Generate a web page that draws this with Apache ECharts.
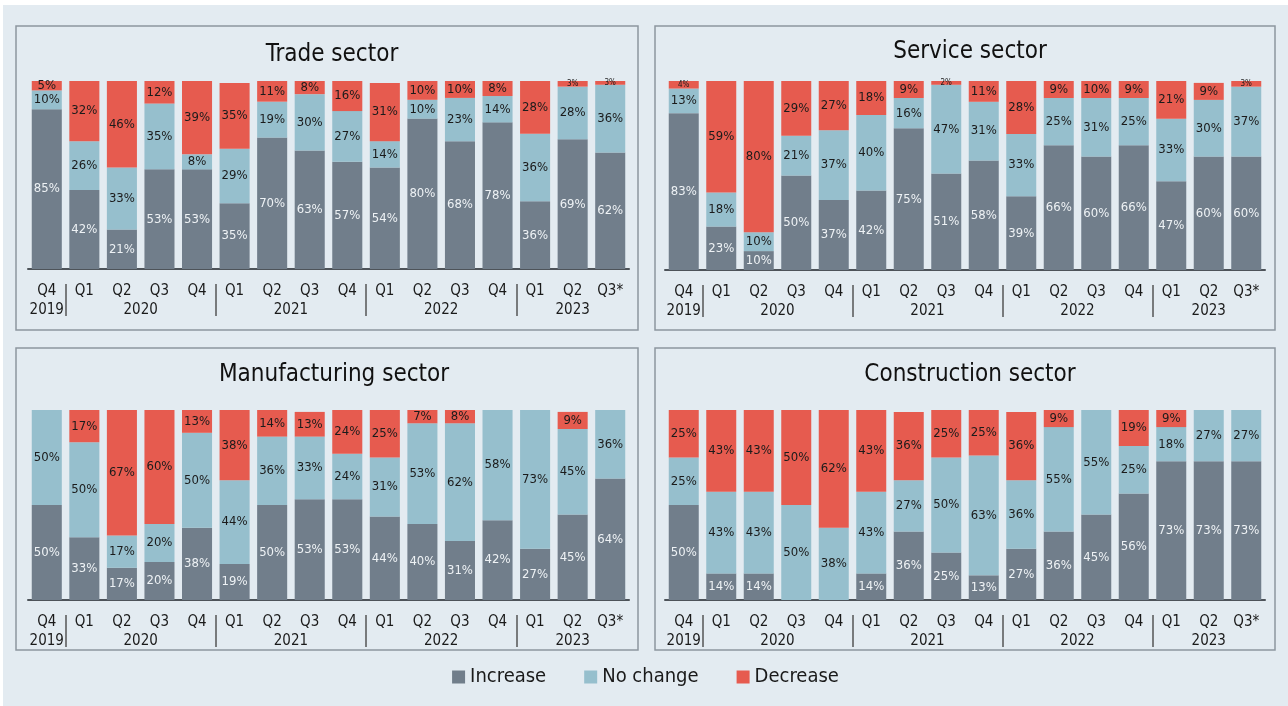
<!DOCTYPE html>
<html>
<head>
<meta charset="utf-8">
<script src="https://cdn.jsdelivr.net/npm/echarts@6/dist/echarts.min.js"></script>
<style>
  body { margin: 0; background: #fff; }
  #main { position: absolute; left: 3px; top: 5px; width: 1285px; height: 701px; }
</style>
</head>
<body>
<div id="main"></div>
<script>
// categories
var quarters = ['Q4', 'Q1', 'Q2', 'Q3', 'Q4', 'Q1', 'Q2', 'Q3', 'Q4', 'Q1', 'Q2', 'Q3', 'Q4', 'Q1', 'Q2', 'Q3*']
var years = ['2019', '2020', '2021', '2022', '2023']
var yearSizes = [1, 4, 4, 4, 3]

// trade sector
var tradeInc = [85, 42, 21, 53, 53, 35, 70, 63, 57, 54, 80, 68, 78, 36, 69, 62]
var tradeNo  = [10, 26, 33, 35, 8, 29, 19, 30, 27, 14, 10, 23, 14, 36, 28, 36]
var tradeDec = [5, 32, 46, 12, 39, 35, 11, 8, 16, 31, 10, 10, 8, 28, 3, 3]

// service sector
var serviceInc = [83, 23, 10, 50, 37, 42, 75, 51, 58, 39, 66, 60, 66, 47, 60, 60]
var serviceNo  = [13, 18, 10, 21, 37, 40, 16, 47, 31, 33, 25, 31, 25, 33, 30, 37]
var serviceDec = [4, 59, 80, 29, 27, 18, 9, 2, 11, 28, 9, 10, 9, 21, 9, 3]

// manufacturing sector
var manufInc = [50, 33, 17, 20, 38, 19, 50, 53, 53, 44, 40, 31, 42, 27, 45, 64]
var manufNo  = [50, 50, 17, 20, 50, 44, 36, 33, 24, 31, 53, 62, 58, 73, 45, 36]
var manufDec = [0, 17, 67, 60, 13, 38, 14, 13, 24, 25, 7, 8, 0, 0, 9, 0]

// construction sector
var constrInc = [50, 14, 14, 0, 0, 14, 36, 25, 13, 27, 36, 45, 56, 73, 73, 73]
var constrNo  = [25, 43, 43, 50, 38, 43, 27, 50, 63, 36, 55, 55, 25, 18, 27, 27]
var constrDec = [25, 43, 43, 50, 62, 43, 36, 25, 25, 36, 9, 0, 19, 9, 0, 0]

var panels = [
  {title: 'Trade sector', inc: tradeInc, no: tradeNo, dec: tradeDec},
  {title: 'Service sector', inc: serviceInc, no: serviceNo, dec: serviceDec},
  {title: 'Manufacturing sector', inc: manufInc, no: manufNo, dec: manufDec},
  {title: 'Construction sector', inc: constrInc, no: constrNo, dec: constrDec}
]

// layout (chart coords)
var grids = [
  {left: 25, top: 76, width: 601, height: 188},
  {left: 662, top: 76, width: 600, height: 189},
  {left: 25, top: 405, width: 601, height: 190},
  {left: 662, top: 405, width: 600, height: 190}
]
var boxes = [
  {x: 13, y: 21, w: 622, h: 304},
  {x: 652, y: 21, w: 620, h: 304},
  {x: 13, y: 343, w: 622, h: 302},
  {x: 652, y: 343, w: 620, h: 302}
]
var titlePos = [[324, 33], [962, 30], [326, 353], [962, 353]]

var colors = {inc: '#717e8b', no: '#96bfcd', dec: '#e65b4f'}
var font = "'DejaVu Sans Condensed', 'Noto Sans', sans-serif"

// year label centers + separators on a 0..16 value scale
var yearCenters = []
var yearSeps = []
var pos = 0
for (var i = 0; i < yearSizes.length; i++) {
  yearCenters.push(pos + yearSizes[i] / 2)
  pos += yearSizes[i]
  if (i < yearSizes.length - 1) yearSeps.push(pos)
}

function makeData(arr) {
  return arr.map(function (v) {
    return {value: v, label: {fontSize: v < 5 ? 8 : 13}}
  })
}

var option = {
  backgroundColor: '#e3ebf1',
  textStyle: {fontFamily: font},
  title: [],
  grid: [],
  xAxis: [],
  yAxis: [],
  series: [],
  legend: {
    bottom: 14,
    left: 'center',
    icon: 'rect',
    itemWidth: 13,
    itemHeight: 13,
    itemGap: 38,
    textStyle: {fontSize: 20, color: '#1a1a1a', fontFamily: font},
    data: ['Increase', 'No change', 'Decrease']
  },
  graphic: []
}

for (var k = 0; k < panels.length; k++) {
  var p = panels[k]
  option.graphic.push({
    type: 'rect', silent: true, z: -1,
    shape: {x: boxes[k].x, y: boxes[k].y, width: boxes[k].w, height: boxes[k].h},
    style: {fill: 'transparent', stroke: '#8d979f', lineWidth: 1.5}
  })
  option.title.push({
    text: p.title,
    left: titlePos[k][0],
    top: titlePos[k][1],
    textAlign: 'center',
    textStyle: {fontSize: 24, fontWeight: 'normal', color: '#111', fontFamily: font}
  })
  option.grid.push(grids[k])
  option.xAxis.push({
    type: 'category',
    gridIndex: k,
    data: quarters,
    axisLine: {lineStyle: {color: '#4d5359', width: 2}},
    axisTick: {show: false},
    axisLabel: {color: '#1a1a1a', fontSize: 15, margin: 15, fontFamily: font}
  })
  option.xAxis.push({
    type: 'value',
    gridIndex: k,
    position: 'bottom',
    offset: 15,
    min: 0,
    max: 16,
    splitLine: {show: false},
    axisLine: {show: false},
    axisTick: {show: true, customValues: yearSeps, length: 32, lineStyle: {color: '#555', width: 1.5}},
    axisLabel: {
      customValues: yearCenters,
      color: '#1a1a1a', fontSize: 15, margin: 19, fontFamily: font,
      formatter: function (v) {
        var idx = yearCenters.indexOf(v)
        return idx >= 0 ? years[idx] : ''
      }
    }
  })
  option.yAxis.push({
    type: 'value', gridIndex: k, min: 0, max: 100,
    show: false
  })
  var sets = [['Increase', p.inc, colors.inc, '#eef2f5'], ['No change', p.no, colors.no, '#1b1b1b'], ['Decrease', p.dec, colors.dec, '#1b1b1b']]
  for (var s = 0; s < sets.length; s++) {
    option.series.push({
      name: sets[s][0],
      type: 'bar',
      stack: 'st' + k,
      xAxisIndex: k * 2,
      yAxisIndex: k,
      barWidth: '80%',
      itemStyle: {color: sets[s][2]},
      label: {
        show: true,
        position: 'inside',
        color: sets[s][3],
        fontSize: 13,
        fontFamily: font,
        formatter: function (prm) { return prm.value ? prm.value + '%' : '' }
      },
      data: makeData(sets[s][1])
    })
  }
}

var myChart = echarts.init(document.getElementById('main'))
myChart.setOption(option)
</script>
</body>
</html>
